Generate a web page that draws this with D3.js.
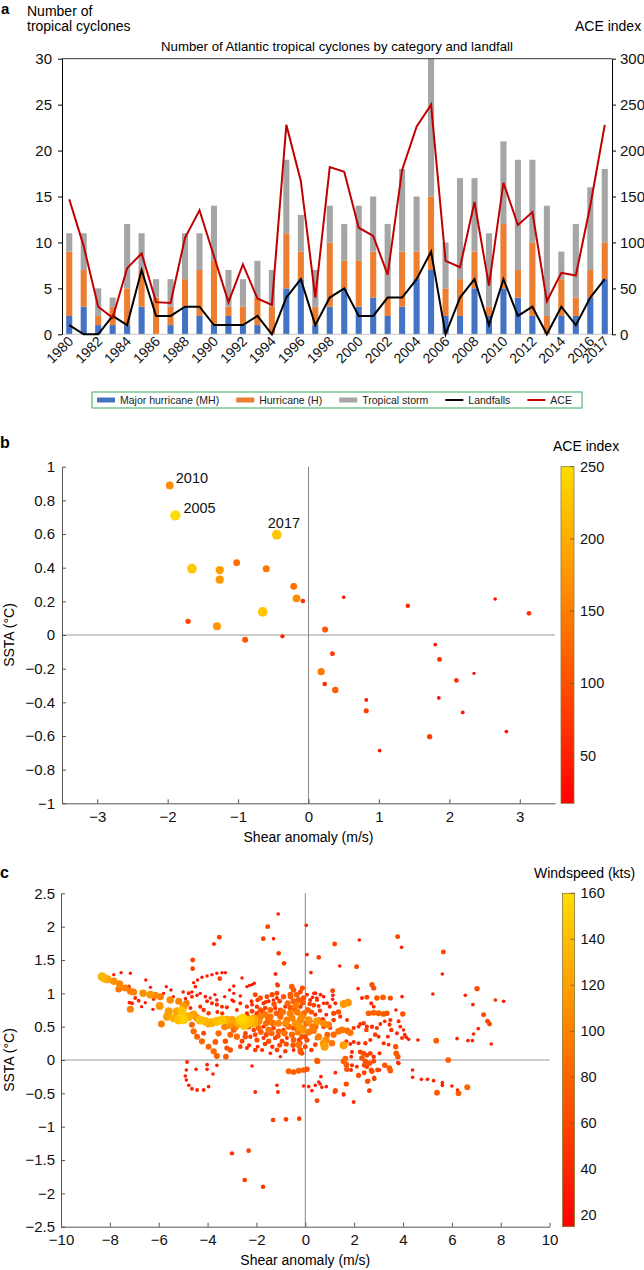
<!DOCTYPE html>
<html><head><meta charset="utf-8">
<script src="https://cdn.jsdelivr.net/npm/d3@7"></script>
<style>body{margin:0;background:#fff;} svg{display:block;}</style>
</head><body>
<svg id="chart" width="644" height="1270"></svg>
<script>
// ---------------- DATA ----------------
const years = [1980,1981,1982,1983,1984,1985,1986,1987,1988,1989,1990,1991,1992,1993,1994,1995,1996,1997,1998,1999,2000,2001,2002,2003,2004,2005,2006,2007,2008,2009,2010,2011,2012,2013,2014,2015,2016,2017];
const majorHurricanes = [2,3,1,1,1,3,0,1,3,2,1,2,1,1,0,5,6,1,3,5,3,4,2,3,6,7,2,2,5,2,5,4,2,0,2,2,4,6];
const hurricanes      = [9,7,2,3,5,7,4,3,6,7,8,3,3,4,3,11,9,3,10,8,8,9,4,9,9,15,5,6,9,3,12,7,10,2,6,4,7,10];
const tropicalCyclones= [11,11,5,4,12,11,6,6,11,11,14,7,6,8,7,19,13,7,14,12,14,15,12,18,15,30,10,17,17,11,21,19,19,14,9,12,16,18];
const landfalls       = [1,0,0,2,1,7,2,2,3,3,1,1,1,2,0,4,6,1,4,5,2,2,4,4,6,9,0,4,6,1,6,2,3,0,3,1,4,6];
const aceIndex        = [147,96,30,18,72,88,35,34,105,135,85,35,76,39,32,228,167,40,182,177,116,107,65,179,226,250,80,73,144,53,165,119,133,36,67,64,140,228];
const yearTickLabels = ["1980","1982","1984","1986","1988","1990","1992","1994","1996","1998","2000","2002","2004","2006","2008","2010","2012","2014","2016","2017"];
const countTicks = [0,5,10,15,20,25,30];
const aceTicks = [0,50,100,150,200,250,300];
const legendLabels = ["Major hurricane (MH)","Hurricane (H)","Tropical storm","Landfalls","ACE"];

// panel b (one point per season)
const bShear = [-1.97,-1.89,-0.45,-1.655,-1.26,-1.26,-1.02,-0.60,-0.21,-0.17,-0.08,-1.71,-1.30,-0.65,-0.90,-0.37,0.236,0.18,0.23,0.50,1.41,2.65,3.13,1.80,0.34,1.86,2.35,2.10,0.38,0.82,1.85,0.82,2.19,2.81,1.72,1.01];
const bSSTA  = [0.889,0.711,0.596,0.394,0.386,0.329,0.43,0.394,0.289,0.218,0.202,0.081,0.052,0.137,-0.028,-0.008,0.032,-0.218,-0.291,0.224,0.174,0.214,0.129,-0.057,-0.111,-0.145,-0.228,-0.27,-0.327,-0.386,-0.374,-0.45,-0.46,-0.574,-0.604,-0.687];
const bACE   = [165,250,228,228,182,177,133,141,135,166,65,88,176,226,107,53,110,146,64,30,63,32,67,35,72,73,18,67,119,36,34,80,39,32,84,36];
const bLabels = ["2010","2005","2017"];
const bXTicks = [-3,-2,-1,0,1,2,3];
const bYTicks = [-1,-0.8,-0.6,-0.4,-0.2,0,0.2,0.4,0.6,0.8,1];
const aceBarTicks = [50,100,150,200,250];

// panel c: [shear anomaly, SSTA, windspeed]
const cPoints = [
[-8.32,1.25,135],[-8.25,1.23,130],[-8.19,1.22,125],[-8.1,1.21,120],[-7.84,1.18,110],[-7.6,1.14,105],[-7.37,1.08,100],[-7.16,1.03,95],[-7.03,1.02,100],[-6.64,1.0,110],[-6.34,0.98,115],[-6.14,0.97,105],[-5.93,0.95,100],[-5.53,0.9,110],[-5.18,0.88,100],[-4.87,0.85,95],[-5.96,0.81,115],[-5.59,0.73,120],[-5.25,0.73,125],[-4.98,0.8,115],[-5.05,0.73,145],[-7.16,0.76,100],[-5.89,0.54,95],[-7.64,1.06,90],
[-5.66,0.65,120],[-5.39,0.63,130],[-5.18,0.6,140],[-4.98,0.61,150],[-4.77,0.65,130],[-4.57,0.68,120],[-4.43,0.63,110],[-4.3,0.6,140],[-4.09,0.58,135],[-3.96,0.55,125],[-3.82,0.56,130],[-3.62,0.58,140],[-3.41,0.6,145],[-3.21,0.6,130],[-3.0,0.6,120],[-2.66,0.6,150],[-2.55,0.62,155],[-2.46,0.6,145],[-2.25,0.6,140],[-2.11,0.55,130],[-1.84,0.65,100],[-1.64,0.68,95],[-1.43,0.65,90],[-1.02,0.65,85],[-0.75,0.6,95],[-0.55,0.63,100],[-0.2,0.6,105],[0.14,0.6,110],[0.48,0.58,115],[0.75,0.55,105],[0.95,0.53,100],
[-7.84,1.28,30],[-7.54,1.31,30],[-7.16,1.3,30],[-6.53,1.2,30],[-7.23,1.1,50],[-6.34,1.09,30],[-5.69,1.1,30],[-5.5,1.05,30],[-6.96,0.93,40],[-7.09,0.85,40],[-6.82,0.89,40],[-6.21,0.91,30],[-6.24,0.76,30],[-6.55,0.86,30],[-7.2,0.86,35],[-6.7,0.8,30],
[-4.57,1.16,30],[-4.41,1.2,30],[-4.23,1.24,30],[-4.02,1.26,30],[-3.82,1.28,30],[-3.62,1.3,30],[-3.41,1.31,30],[-3.27,1.31,30],
[-4.61,1.5,60],[-4.61,1.37,55],[-3.52,1.84,60],[-3.74,1.74,45],[-3.5,1.22,55],[-2.59,1.23,30],[-2.09,1.15,30],[-2.28,1.12,30],[-2.93,1.11,30],
[-1.11,2.19,35],[-1.54,2.0,60],[-1.72,1.82,55],[-1.3,1.82,35],[-1.09,1.6,55],[-0.87,1.45,55],[-1.21,1.29,35],[-1.13,1.12,55],[0.04,2.02,35],[0.07,1.58,35],[0.23,1.31,35],[0.55,1.54,55],
[-4.5,1.1,35],[-4.64,1.02,35],[-4.77,1.0,40],[-4.64,0.95,40],[-4.43,0.97,35],[-4.3,1.0,30],[-4.09,0.95,35],[-3.89,0.93,30],[-3.62,0.9,35],[-4.02,0.88,40],[-3.82,0.85,40],[-3.62,0.83,45],[-3.41,0.8,40],[-3.21,0.79,45],[-4.3,0.8,45],[-4.16,0.75,50],[-3.96,0.7,50],
[-2.93,1.0,30],[-2.66,0.96,35],[-2.93,0.88,35],[-2.66,0.85,40],[-2.39,0.8,45],[-2.18,0.83,40],[-1.98,0.8,50],[-1.71,0.85,45],[-1.5,0.88,40],[-1.3,0.9,35],[-1.16,0.93,40],[-2.39,1.1,30],[-2.18,1.13,30],[-1.23,1.29,30],[-1.16,1.14,35],
[-2.05,0.98,60],[-1.84,0.93,65],[-1.57,0.95,60],[-1.36,0.98,65],[-1.16,1.0,60],[-0.89,0.95,70],[-0.61,0.98,75],[-0.48,0.88,80],[-0.27,0.9,75],[-0.07,0.93,70],[-0.55,1.1,75],[-0.48,1.05,70],[0.07,0.98,40],[0.41,1.0,40],[0.48,0.9,45],[0.75,0.95,35],[0.89,0.85,40],
[-2.39,0.7,45],[-2.18,0.73,60],[-1.98,0.7,50],[-1.84,0.75,70],[-1.64,0.78,55],[-1.43,0.75,80],[-1.23,0.78,50],[-1.02,0.75,65],[-0.82,0.8,45],[-0.61,0.78,75],[-0.41,0.75,60],[-0.2,0.8,50],
[-2.32,0.5,70],[-2.11,0.45,55],[-1.91,0.48,80],[-1.71,0.5,45],[-1.5,0.45,90],[-1.3,0.48,60],[-1.09,0.43,75],[-0.89,0.45,50],[-0.68,0.5,85],[-0.48,0.48,65],[-0.27,0.43,55],[-0.07,0.48,70],
[-2.25,0.35,50],[-1.98,0.3,65],[-1.71,0.33,45],[-1.5,0.28,70],[-1.23,0.33,55],[-0.95,0.28,60],[-0.75,0.33,40],[-0.48,0.3,75],[-0.2,0.25,50],[0.0,0.35,65],
[-2.39,0.18,40],[-2.05,0.15,55],[-1.77,0.15,45],[-1.43,0.1,35],[-1.02,0.05,30],[-1.16,0.15,60],[-0.82,0.13,50],[-0.48,0.15,40],[-0.27,0.2,45],
[-2.2,0.88,40],[-1.95,0.9,55],[-1.62,0.87,45],[-1.28,0.84,70],[-1.05,0.88,60],[-0.72,0.85,85],[-0.38,0.82,95],[-0.12,0.86,75],[0.18,0.84,55],
[-2.35,0.66,45],[-2.0,0.67,60],[-1.75,0.72,70],[-1.52,0.62,85],[-1.18,0.7,75],[-0.92,0.72,90],[-0.62,0.7,100],[-0.33,0.72,95],[-0.05,0.7,85],[0.25,0.72,65],[0.6,0.74,50],
[-2.45,0.4,55],[-2.05,0.38,60],[-1.82,0.42,75],[-1.6,0.38,65],[-1.38,0.4,80],[-1.12,0.36,70],[-0.85,0.4,90],[-0.55,0.38,85],[-0.3,0.42,100],[-0.1,0.45,110],[0.15,0.42,95],
[-2.3,0.22,45],[-1.95,0.2,40],[-1.65,0.24,55],[-1.35,0.2,50],[-1.05,0.22,60],[-0.78,0.24,65],[-0.5,0.22,70],[-0.25,0.3,60],
[-0.6,0.95,70],[-0.35,0.98,80],[-0.2,1.02,60],[-0.12,1.08,65],[0.2,0.9,45],[0.62,0.98,40],
[-0.4,0.55,110],[-0.25,0.5,115],[-0.8,0.55,105],[-1.1,0.55,100],[-1.35,0.56,90],[-1.6,0.55,85],[-1.9,0.58,105],[-2.1,0.62,125],[-2.35,0.55,140],[-2.5,0.52,145],[-2.75,0.55,130],[-2.85,0.5,95],[-3.1,0.52,110],[-3.3,0.5,100],
[-5.8,1.0,30],[-5.4,0.95,30],[-5.0,1.02,35],[-4.9,0.92,35],[-4.7,0.78,40],[-3.7,0.98,30],[-3.3,0.95,30],[-3.1,1.05,30],[-3.0,0.9,35],[-2.8,0.75,40],[-3.4,0.7,45],[-3.6,0.72,40],
[-4.64,0.53,80],[-4.57,0.43,85],[-4.43,0.35,80],[-4.23,0.28,85],[-3.96,0.2,80],[-3.75,0.13,85],[-3.62,0.06,80],[-3.25,0.05,75],[-3.07,0.15,70],[-4.16,0.4,60],[-3.68,0.27,75],[-3.55,0.4,85],[-3.27,0.28,70],[-3.21,0.18,65],[-3.07,0.38,80],[-2.93,0.45,75],[-2.8,0.35,85],[-2.59,0.28,60],[-2.46,0.35,70],[-2.66,0.2,55],
[-4.84,-0.03,40],[-4.87,-0.15,35],[-4.91,-0.24,35],[-4.87,-0.3,35],[-4.77,-0.38,35],[-4.64,-0.43,40],[-4.43,-0.45,40],[-4.16,-0.45,40],[-3.96,-0.4,35],[-4.47,-0.14,35],[-4.02,-0.07,40],[-4.02,-0.14,35],[-3.78,-0.21,35],[-3.62,-0.08,35],
[-2.18,-0.09,35],[-2.05,-0.48,40],[-1.16,-0.38,35],[-1.12,-0.48,40],
[-0.68,-0.17,80],[-0.48,-0.18,75],[-0.27,-0.16,80],[-0.07,-0.15,75],[0.07,-0.14,70],
[-0.07,-0.39,35],[0.14,-0.4,35],[0.41,-0.38,35],[0.55,-0.33,35],[0.68,-0.41,35],[0.48,-0.01,75],[0.48,-0.61,60],
[-1.32,-0.9,55],[-0.79,-0.89,55],[-0.25,-0.88,55],[-3.0,-1.4,50],[-2.32,-1.36,55],[-2.48,-1.8,55],[-1.73,-1.9,50],
[1.2,1.74,60],[2.21,1.8,35],[3.78,1.85,60],[3.94,1.69,35],[5.65,1.62,60],[1.41,1.41,35],[2.1,1.4,60],[5.61,1.29,35],[2.16,1.07,35],[1.12,1.04,60],[2.73,1.13,65],[2.8,1.08,65],[3.96,0.95,35],[5.22,0.99,35],[6.55,0.97,35],[7.03,1.07,65],[7.78,0.9,35],[8.12,0.88,35],[6.86,0.83,35],[7.3,0.68,60],[7.46,0.58,60],[7.54,0.54,60],[7.08,0.47,35],[6.89,0.39,35],[6.66,0.29,35],[6.84,0.29,35],[7.61,0.24,35],[6.21,0.32,35],[5.36,0.29,75],[4.61,0.3,35],[5.85,0.0,75],
[4.39,-0.15,35],[4.39,-0.26,35],[4.75,-0.29,35],[5.0,-0.29,35],[5.25,-0.31,35],[5.61,-0.34,35],[5.61,-0.38,35],[5.39,-0.49,75],[6.0,-0.39,35],[6.23,-0.45,35],[6.27,-0.5,75],[6.63,-0.41,80],
[1.2,-0.48,40],[1.57,-0.52,40],[1.98,-0.63,40],[2.63,-0.46,45],[1.66,-0.36,45],[0.86,-0.4,35],[2.17,-0.24,35],[2.59,-0.31,35],[2.82,-0.26,35],[3.04,-0.15,35],[2.7,-0.15,65],
[0.35,1.0,35],[0.3,0.94,35],[0.47,0.93,35],[0.75,0.85,35],[0.55,0.81,40],[1.13,0.97,35],[1.12,0.91,35],[1.23,0.85,40],[1.57,0.84,115],[1.75,0.86,110],[1.36,0.72,70],[1.16,0.7,65],[0.86,0.68,40],[0.72,0.61,50],[0.41,0.68,45],[0.55,0.6,70],[0.2,0.58,60],[0.41,0.5,85],[0.34,0.44,90],[0.75,0.5,60],[1.02,0.48,45],[1.16,0.6,55],[1.43,0.65,45],[1.71,0.6,40],[1.36,0.43,90],[1.5,0.45,95],[1.71,0.44,85],[1.84,0.41,90],[1.98,0.48,45],[2.18,0.5,40],[2.25,0.54,45],[2.39,0.55,50],[2.52,0.5,45],[2.5,0.45,55],[2.73,0.5,50],[2.93,0.48,45],[2.86,0.38,55],
[2.59,0.7,75],[2.8,0.71,80],[3.0,0.7,80],[3.2,0.69,75],[3.34,0.7,70],[2.7,0.85,45],[2.8,0.8,40],[2.52,0.94,60],[2.93,0.93,70],[3.18,0.94,75],[3.48,0.93,65],[2.32,0.93,40],[3.71,0.75,35],[3.99,0.69,70],[3.82,0.58,40],[3.89,0.5,40],[4.02,0.45,35],[4.07,0.38,40],[3.96,0.33,45],[3.48,0.6,45],[3.45,0.53,45],[3.52,0.45,50],[3.25,0.58,35],[3.07,0.54,40],[3.75,0.4,40],[4.13,0.34,35],[4.23,0.31,35],[3.38,0.35,40],[3.21,0.25,45],[3.41,0.23,40],[3.7,0.2,70],[3.72,0.1,75],[3.79,0.05,70],[3.79,-0.04,35],
[3.0,0.35,40],[2.66,0.3,45],[2.46,0.25,50],[2.18,0.25,40],[1.98,0.27,45],[1.84,0.24,40],[1.68,0.28,45],[1.57,0.22,120],[1.16,0.38,85],[1.09,0.25,90],[0.75,0.25,115],[0.79,0.2,120],[0.48,0.33,60],[0.41,0.23,55],[0.07,0.3,65],[-0.14,0.35,70],[-0.27,0.23,90],[-0.2,0.15,75],[-0.2,0.12,70],[-0.14,0.1,60],
[2.25,0.12,60],[2.39,0.1,65],[2.52,0.07,60],[2.66,0.1,55],[2.32,0.03,70],[2.46,-0.02,65],[2.63,-0.05,70],[2.8,-0.02,60],[2.52,-0.1,55],[2.41,-0.08,60],[3.04,0.1,45],[2.8,0.05,50],[1.91,0.12,45],[1.88,0.05,40],[1.64,0.02,75],[1.57,-0.02,80],[1.68,-0.07,75],[1.7,-0.14,70],[1.91,-0.08,45],[1.87,-0.15,40],[2.11,-0.1,40],[3.25,-0.08,70],[3.44,-0.12,75],[3.48,-0.16,70],[3.82,-0.05,45],[0.5,-0.02,75],[1.23,-0.19,40],
[2.96,-0.15,60],[2.73,-0.17,65],[2.41,-0.19,60],[2.18,-0.23,65],[2.82,-0.28,60],[2.55,-0.32,65],[1.68,-0.36,65],[1.23,-0.46,65],[1.57,-0.51,45],[2.62,-0.46,55],[0.61,-0.36,35],[0.64,-0.25,35],[0.27,-0.46,35],
[0.05,0.55,90],[0.3,0.5,95],[0.1,0.75,80],[-0.15,0.65,105],[0.35,0.82,60],[0.0,0.2,60],[0.25,0.15,55],[0.55,0.35,100],[0.9,0.38,75],[1.0,0.8,45],[0.85,0.3,105]
];
const cXTicks = [-10,-8,-6,-4,-2,0,2,4,6,8,10];
const cYTicks = [-2.5,-2,-1.5,-1,-0.5,0,0.5,1,1.5,2,2.5];
const windTicks = [20,40,60,80,100,120,140,160];

// ---------------- DRAWING ----------------
const FONT = '"Liberation Sans", Arial, Helvetica, sans-serif';
const svg = d3.select("#chart").attr("font-family", FONT);
const heat = d3.interpolateRgb("#ff0000", "#ffdc00");

function styleAxis(g, fs, col) {
  g.attr("font-size", fs).attr("font-family", FONT);
  g.selectAll("text").attr("fill", "#111");
  g.selectAll("line, path").attr("stroke", col);
}

// ===== Panel a =====
const A = {l: 62, r: 612, t: 58.7, b: 334.3};
const xA = d3.scaleBand().domain(years).range([A.l, A.r]).paddingInner(0.58).paddingOuter(0.29);
const yCount = d3.scaleLinear().domain([0, 30]).range([A.b, A.t]);
const yAce = d3.scaleLinear().domain([0, 300]).range([A.b, A.t]);
const bw = xA.bandwidth();
const cxA = y => xA(y) + bw / 2;
const rows = years.map((yr, i) => ({yr, mh: majorHurricanes[i], h: hurricanes[i], tot: tropicalCyclones[i], land: landfalls[i], ace: aceIndex[i]}));
const gA = svg.append("g");
const segs = [
  {lo: d => 0, hi: d => d.mh, c: "#4472c4"},
  {lo: d => d.mh, hi: d => d.h, c: "#ed7d31"},
  {lo: d => d.h, hi: d => d.tot, c: "#a5a5a5"}
];
segs.forEach(s => {
  gA.append("g").selectAll("rect").data(rows).join("rect")
    .attr("x", d => xA(d.yr)).attr("width", bw)
    .attr("y", d => yCount(s.hi(d)))
    .attr("height", d => yCount(s.lo(d)) - yCount(s.hi(d)))
    .attr("fill", s.c);
});
gA.append("line").attr("x1", A.l).attr("x2", A.r).attr("y1", A.b).attr("y2", A.b).attr("stroke", "#c8c8c8");
gA.append("line").attr("x1", A.l).attr("x2", A.r).attr("y1", A.t).attr("y2", A.t).attr("stroke", "#333");
gA.append("path").datum(rows).attr("fill", "none").attr("stroke", "#000").attr("stroke-width", 2)
  .attr("stroke-linejoin", "miter").attr("d", d3.line().x(d => cxA(d.yr)).y(d => yCount(d.land)));
gA.append("path").datum(rows).attr("fill", "none").attr("stroke", "#c00000").attr("stroke-width", 2)
  .attr("d", d3.line().x(d => cxA(d.yr)).y(d => yAce(d.ace)));
const axL = gA.append("g").attr("transform", `translate(${A.l},0)`)
  .call(d3.axisLeft(yCount).tickValues(countTicks).tickSize(4).tickSizeOuter(0).tickPadding(6));
styleAxis(axL, 15, "#000");
const axR = gA.append("g").attr("transform", `translate(${A.r},0)`)
  .call(d3.axisRight(yAce).tickValues(aceTicks).tickSize(4).tickSizeOuter(0).tickPadding(4));
styleAxis(axR, 15, "#000");
gA.append("g").selectAll("text").data(yearTickLabels).join("text")
  .attr("transform", d => `translate(${cxA(+d) + 5},${A.b + 8}) rotate(-45)`)
  .attr("text-anchor", "end").attr("font-size", 14).attr("fill", "#111").text(d => d);
svg.append("text").attr("x", 1).attr("y", 14).attr("font-size", 15).attr("font-weight", "bold").text("a");
svg.append("text").attr("x", 27).attr("y", 16).attr("font-size", 14).text("Number of");
svg.append("text").attr("x", 27).attr("y", 31).attr("font-size", 14).text("tropical cyclones");
svg.append("text").attr("x", 575).attr("y", 31).attr("font-size", 14).text("ACE index");
svg.append("text").attr("x", 337).attr("y", 51).attr("text-anchor", "middle").attr("font-size", 13.2)
  .text("Number of Atlantic tropical cyclones by category and landfall");
const gL = svg.append("g");
gL.append("rect").attr("x", 92).attr("y", 392).attr("width", 490).attr("height", 16)
  .attr("fill", "#fff").attr("stroke", "#3aa860").attr("stroke-width", 1);
const legKinds = [
  {t: "rect", c: "#4472c4"}, {t: "rect", c: "#ed7d31"}, {t: "rect", c: "#a5a5a5"},
  {t: "line", c: "#000"}, {t: "line", c: "#c00000"}
];
let lx = 97;
legendLabels.forEach((lab, i) => {
  const k = legKinds[i];
  if (k.t === "rect") gL.append("rect").attr("x", lx).attr("y", 397.5).attr("width", 18).attr("height", 5).attr("fill", k.c);
  else gL.append("line").attr("x1", lx).attr("x2", lx + 18).attr("y1", 400).attr("y2", 400).attr("stroke", k.c).attr("stroke-width", 2);
  const tx = gL.append("text").attr("x", lx + 23).attr("y", 403.8).attr("font-size", 10.5).attr("fill", "#222").text(lab);
  lx = lx + 23 + tx.node().getComputedTextLength() + 17;
});

function colorbar(id, x, y0, y1, w, domain, ticks) {
  const defs = svg.append("defs");
  const grad = defs.append("linearGradient").attr("id", id).attr("x1", 0).attr("y1", 1).attr("x2", 0).attr("y2", 0);
  d3.range(0, 1.0001, 0.1).forEach(t => grad.append("stop").attr("offset", t).attr("stop-color", heat(t)));
  svg.append("rect").attr("x", x).attr("y", y0).attr("width", w).attr("height", y1 - y0)
    .attr("fill", `url(#${id})`).attr("stroke", "#8c7a3c").attr("stroke-width", 0.8);
  const s = d3.scaleLinear().domain(domain).range([y1, y0]);
  const g = svg.append("g");
  g.selectAll("line").data(ticks).join("line").attr("x1", x + w - 4).attr("x2", x + w)
    .attr("y1", d => s(d)).attr("y2", d => s(d)).attr("stroke", "#6b5a2a").attr("stroke-width", 0.8);
  g.selectAll("text").data(ticks).join("text").attr("x", x + w + 6).attr("y", d => s(d)).attr("dy", "0.35em")
    .attr("font-size", 14.5).attr("fill", "#111").text(d => d);
}

// ===== Panel b =====
const B = {l: 62, r: 555, t: 466.7, b: 803.3};
const xB = d3.scaleLinear().domain([-3.5, 3.5]).range([B.l, B.r]);
const yB = d3.scaleLinear().domain([-1, 1]).range([B.b, B.t]);
const cB = d3.scaleSequential(heat).domain([17, 250]);
const rB = d3.scaleLinear().domain([17, 250]).range([1.6, 5.2]);
const gB = svg.append("g");
gB.append("line").attr("x1", B.l).attr("x2", B.r).attr("y1", yB(0)).attr("y2", yB(0)).attr("stroke", "#999");
gB.append("line").attr("x1", xB(0)).attr("x2", xB(0)).attr("y1", B.t).attr("y2", B.b).attr("stroke", "#888");
const fmt = d3.format("~g");
const bxAx = gB.append("g").attr("transform", `translate(0,${B.b})`)
  .call(d3.axisBottom(xB).tickValues(bXTicks).tickSize(-4).tickSizeOuter(0).tickPadding(8).tickFormat(fmt));
styleAxis(bxAx, 15, "#555");
const byAx = gB.append("g").attr("transform", `translate(${B.l},0)`)
  .call(d3.axisLeft(yB).tickValues(bYTicks).tickSize(-4).tickSizeOuter(0).tickPadding(7).tickFormat(fmt));
styleAxis(byAx, 15, "#555");
const bIdx = d3.range(bShear.length).sort((a, b) => bACE[a] - bACE[b]);
gB.append("g").selectAll("circle").data(bIdx).join("circle")
  .attr("cx", i => xB(bShear[i])).attr("cy", i => yB(bSSTA[i])).attr("r", i => rB(bACE[i]))
  .attr("fill", i => cB(bACE[i]));
const labOff = [[6, -2], [8, -2], [-9, -7]];
bLabels.forEach((lab, i) => {
  gB.append("text").attr("x", xB(bShear[i]) + labOff[i][0]).attr("y", yB(bSSTA[i]) + labOff[i][1])
    .attr("font-size", 14.5).attr("fill", "#111").text(lab);
});
svg.append("text").attr("x", 0).attr("y", 448).attr("font-size", 16).attr("font-weight", "bold").text("b");
svg.append("text").attr("x", xB(0)).attr("y", 842).attr("text-anchor", "middle").attr("font-size", 14).text("Shear anomaly (m/s)");
svg.append("text").attr("transform", `translate(14,${yB(0)}) rotate(-90)`).attr("text-anchor", "middle").attr("font-size", 14).text("SSTA (°C)");
svg.append("text").attr("x", 553).attr("y", 451).attr("font-size", 14).text("ACE index");
colorbar("gradB", 561, B.t, B.b, 13, [17, 250], aceBarTicks);

// ===== Panel c =====
const C = {l: 61, r: 549.6, t: 893.3, b: 1226.7};
const xC = d3.scaleLinear().domain([-10, 10]).range([C.l, C.r]);
const yC = d3.scaleLinear().domain([-2.5, 2.5]).range([C.b, C.t]);
const cC = d3.scaleSequential(heat).domain([15, 160]);
const rC = d3.scaleLinear().domain([15, 160]).range([1.3, 5.1]);
const gC = svg.append("g");
gC.append("line").attr("x1", C.l).attr("x2", C.r).attr("y1", yC(0)).attr("y2", yC(0)).attr("stroke", "#999");
gC.append("line").attr("x1", xC(0)).attr("x2", xC(0)).attr("y1", C.t).attr("y2", C.b).attr("stroke", "#888");
const cxAx = gC.append("g").attr("transform", `translate(0,${C.b})`)
  .call(d3.axisBottom(xC).tickValues(cXTicks).tickSize(-4).tickSizeOuter(0).tickPadding(8).tickFormat(fmt));
styleAxis(cxAx, 15, "#555");
const cyAx = gC.append("g").attr("transform", `translate(${C.l},0)`)
  .call(d3.axisLeft(yC).tickValues(cYTicks).tickSize(-4).tickSizeOuter(0).tickPadding(6).tickFormat(fmt));
styleAxis(cyAx, 15, "#555");
const cSorted = cPoints.slice().sort((a, b) => a[2] - b[2]);
gC.append("g").selectAll("circle").data(cSorted).join("circle")
  .attr("cx", d => xC(d[0])).attr("cy", d => yC(d[1])).attr("r", d => rC(d[2]))
  .attr("fill", d => cC(d[2]));
svg.append("text").attr("x", 0).attr("y", 878).attr("font-size", 16).attr("font-weight", "bold").text("c");
svg.append("text").attr("x", xC(0)).attr("y", 1265).attr("text-anchor", "middle").attr("font-size", 14).text("Shear anomaly (m/s)");
svg.append("text").attr("transform", `translate(14,${yC(0)}) rotate(-90)`).attr("text-anchor", "middle").attr("font-size", 14).text("SSTA (°C)");
svg.append("text").attr("x", 534).attr("y", 878).attr("font-size", 14).text("Windspeed (kts)");
colorbar("gradC", 562.5, C.t, C.b, 12, [15, 160], windTicks);
</script>
</body></html>
